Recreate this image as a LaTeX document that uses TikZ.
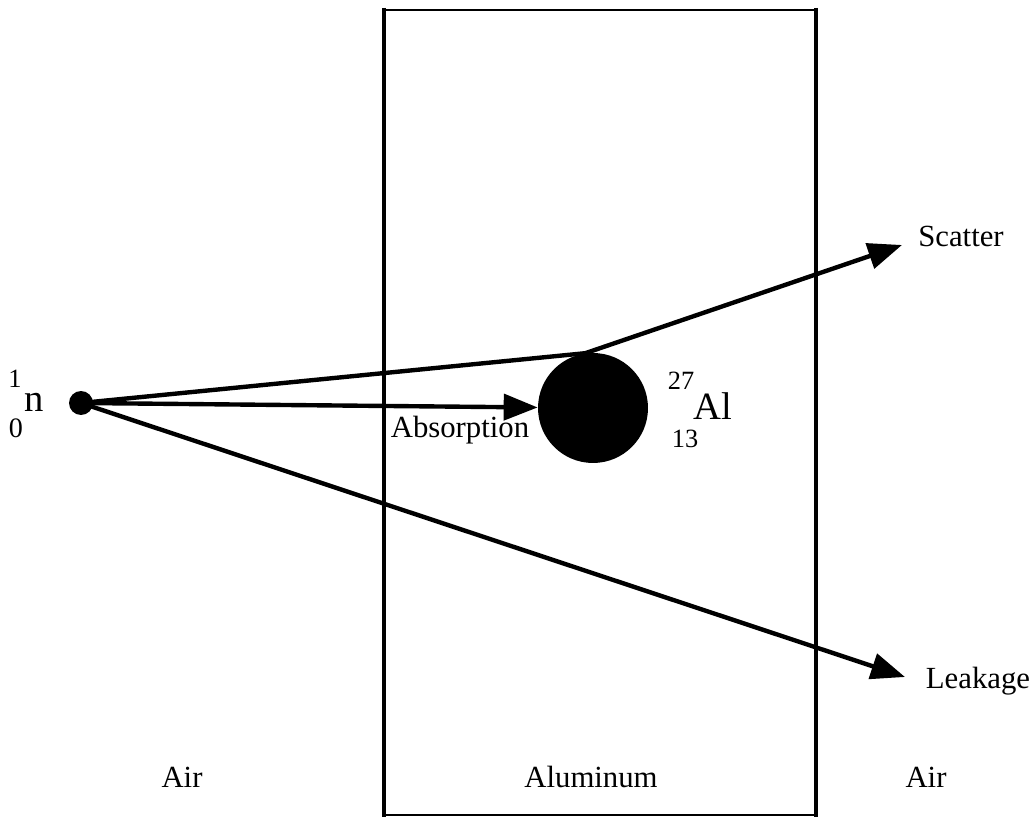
\documentclass[tikz,border=0pt]{standalone}
\usepackage{fontspec}
\setmainfont{Liberation Serif}
\usetikzlibrary{arrows.meta}

\begin{document}
\begin{tikzpicture}[
  x=0.02cm, y=-0.02cm,
  >={Triangle[length=0.68cm, width=0.52cm]},
  lbl/.style={font=\fontsize{17.5}{21}\selectfont, inner sep=0pt, anchor=base},
  sym/.style={font=\fontsize{22}{26}\selectfont, inner sep=0pt, anchor=base},
  idx/.style={font=\fontsize{15}{18}\selectfont, inner sep=0pt, anchor=base},
  ray/.style={line width=2.5pt},
  wall/.style={line width=2.4pt},
  rim/.style={line width=0.9pt},
  dot/.style={circle, fill=black, inner sep=0pt},
]
\useasboundingbox (0,0) rectangle (1031,820);
% aluminium slab
\draw[rim] (384,10) -- (816,10);
\draw[rim] (384,815) -- (816,815);
\draw[wall] (384,8) -- (384,817);
\draw[wall, line width=2.8pt] (816,8) -- (816,817);
% neutron and nucleus
\node[dot, minimum size=0.48cm] (n0) at (81,403) {};
\node[dot, minimum size=2.2cm] (al) at (593,408) {};
\coordinate (sc) at (902,245);
\coordinate (lk) at (905,677);
\draw[ray,->] (n0.center) -- (al.98) -- (sc);
\draw[ray,->] (n0.center) -- (al);
\draw[ray,->] (n0.center) -- (lk);
% labels
\node[idx] (nmass) at (15,388) {1};
\node[sym] (nsym) at (34,412) {n};
\node[idx, font=\fontsize{16}{19}\selectfont] (nz) at (16,438) {0};
\node[idx] (almass) at (681,390) {27};
\node[sym] (alsym) at (713,420) {Al};
\node[idx] (alz) at (685,448) {13};
\node[lbl] (abs) at (460,438) {Absorption};
\node[lbl] (sctxt) at (961,247) {Scatter};
\node[lbl] (lktxt) at (978,688) {Leakage};
\node[lbl] (airl) at (182,787) {Air};
\node[lbl] (alum) at (591,787) {Aluminum};
\node[lbl] (airr) at (926,787) {Air};
\end{tikzpicture}
\end{document}
